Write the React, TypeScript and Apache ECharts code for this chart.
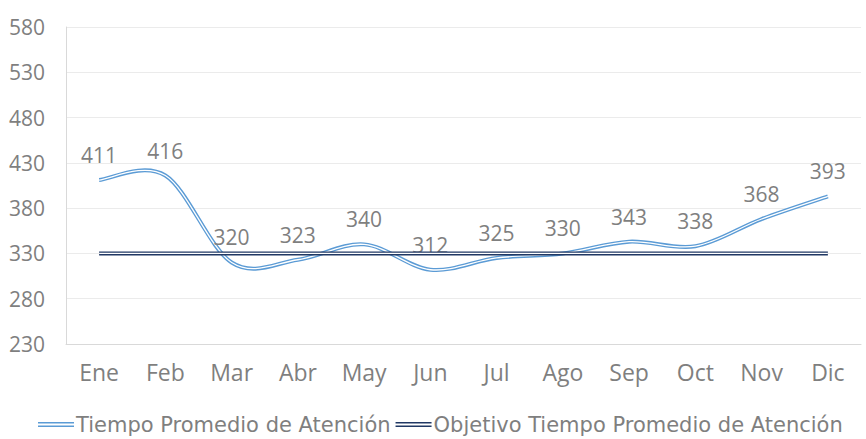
import React, { useEffect, useRef } from "react";
import * as echarts from "echarts";

const months = ["Ene", "Feb", "Mar", "Abr", "May", "Jun", "Jul", "Ago", "Sep", "Oct", "Nov", "Dic"];
const tiempo = [411, 416, 320, 323, 340, 312, 325, 330, 343, 338, 368, 393];
const objetivo = [330, 330, 330, 330, 330, 330, 330, 330, 330, 330, 330, 330];
const seriesNames = ["Tiempo Promedio de Atención", "Objetivo Tiempo Promedio de Atención"];
const yTicks = { min: 230, max: 580, step: 50 };

const NUM_FONT = "Open Sans";
const TXT_FONT = "DejaVu Sans";
const GRAY = "#7f7f7f";
const BLUE = "#5b9bd5";
const NAVY = "#203864";
const ICON = "path://M0,0H36V1.6H0ZM0,3.4H36V5H0Z";

function smoothPath(pts: number[][]): string {
  const t = 1 / 6;
  let d = `M${pts[0][0]},${pts[0][1]}`;
  for (let i = 0; i < pts.length - 1; i++) {
    const p0 = pts[i - 1] || pts[i];
    const p1 = pts[i];
    const p2 = pts[i + 1];
    const p3 = pts[i + 2] || pts[i + 1];
    const c1x = p1[0] + (p2[0] - p0[0]) * t;
    const c1y = p1[1] + (p2[1] - p0[1]) * t;
    const c2x = p2[0] - (p3[0] - p1[0]) * t;
    const c2y = p2[1] - (p3[1] - p1[1]) * t;
    d += ` C${c1x},${c1y} ${c2x},${c2y} ${p2[0]},${p2[1]}`;
  }
  return d;
}

export default function App() {
  const ref = useRef<HTMLDivElement>(null);
  useEffect(() => {
    if (!ref.current) return;
    const chart = echarts.init(ref.current, undefined, { renderer: "svg" });
    chart.setOption({
      animation: false,
      textStyle: { fontFamily: NUM_FONT },
      grid: { left: 66, right: 5, top: 27, bottom: 95, containLabel: false },
      legend: {
        top: 414,
        left: 38,
        data: [seriesNames[0], seriesNames[1]],
        icon: ICON,
        itemWidth: 36,
        itemHeight: 5,
        itemGap: 5,
        padding: 0,
        textStyle: { color: GRAY, fontSize: 21, fontFamily: TXT_FONT, padding: [0, 0, 0, -3] },
      },
      xAxis: {
        type: "category",
        data: months,
        boundaryGap: true,
        axisLine: { lineStyle: { color: "#d9d9d9" } },
        axisTick: { show: false },
        axisLabel: { color: GRAY, fontSize: 23, margin: 16, fontFamily: NUM_FONT },
      },
      yAxis: {
        type: "value",
        min: yTicks.min,
        max: yTicks.max,
        interval: yTicks.step,
        axisLine: { show: true, lineStyle: { color: "#d9d9d9" } },
        axisTick: { show: false },
        splitLine: { lineStyle: { color: "#ebebeb" } },
        axisLabel: { color: GRAY, fontSize: 21, margin: 21, fontFamily: NUM_FONT },
      },
      series: [
        {
          name: seriesNames[0],
          type: "custom",
          data: tiempo.map((v, i) => [i, v]),
          itemStyle: { color: BLUE },
          z: 2,
          renderItem: (params: any, api: any) => {
            if (params.dataIndexInside !== 0) return null;
            const n = params.dataInsideLength;
            const pts: number[][] = [];
            for (let k = 0; k < n; k++) {
              pts.push(api.coord([api.value(0, k), api.value(1, k)]));
            }
            const d = smoothPath(pts);
            return {
              type: "group",
              children: [
                { type: "path", shape: { pathData: d }, style: { stroke: BLUE, lineWidth: 4, fill: "none" } },
                { type: "path", shape: { pathData: d }, style: { stroke: "#ffffff", lineWidth: 1.3, fill: "none" } },
              ],
            };
          },
        },
        {
          name: "etiquetas",
          type: "line",
          data: tiempo,
          symbol: "circle",
          symbolSize: 1,
          itemStyle: { color: "rgba(0,0,0,0)" },
          lineStyle: { width: 0, opacity: 0 },
          label: { show: true, position: "top", distance: 14, color: GRAY, fontSize: 21, fontFamily: NUM_FONT },
          z: 3,
        },
        {
          name: seriesNames[1],
          type: "line",
          data: objetivo,
          symbol: "none",
          lineStyle: { color: NAVY, width: 4 },
          itemStyle: { color: NAVY },
          z: 4,
        },
        {
          name: "inner2",
          type: "line",
          data: objetivo,
          symbol: "none",
          lineStyle: { color: "#ffffff", width: 1.3 },
          silent: true,
          z: 5,
        },
      ],
    });
    return () => chart.dispose();
  }, []);
  return <div ref={ref} style={{ width: 866, height: 439, position: "absolute", left: 0, top: 0 }} />;
}
